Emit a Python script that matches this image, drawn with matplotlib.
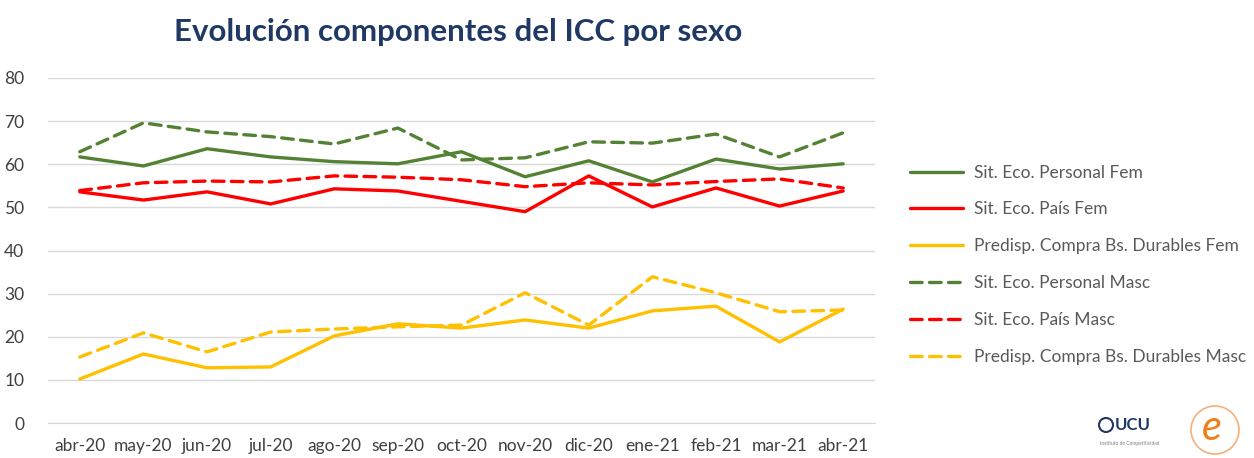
import matplotlib.pyplot as plt
from matplotlib.patches import Circle

plt.rcParams['font.family'] = ['Lato', 'DejaVu Sans']

# data
months = ['abr-20', 'may-20', 'jun-20', 'jul-20', 'ago-20', 'sep-20', 'oct-20',
          'nov-20', 'dic-20', 'ene-21', 'feb-21', 'mar-21', 'abr-21']
personal_fem = [61.7, 59.6, 63.6, 61.7, 60.6, 60.1, 62.9, 57.1, 60.8, 55.9, 61.2, 58.9, 60.1]
pais_fem = [53.6, 51.7, 53.6, 50.8, 54.3, 53.8, 51.4, 49.0, 57.3, 50.1, 54.5, 50.3, 53.8]
durables_fem = [10.2, 16.0, 12.8, 13.0, 20.2, 23.0, 22.0, 23.9, 22.0, 26.0, 27.1, 18.8, 26.4]
personal_masc = [62.9, 69.6, 67.5, 66.4, 64.7, 68.4, 61.0, 61.5, 65.2, 64.9, 67.0, 61.7, 67.3]
pais_masc = [53.9, 55.7, 56.1, 55.9, 57.3, 57.0, 56.4, 54.8, 55.7, 55.2, 56.0, 56.6, 54.5]
durables_masc = [15.3, 20.9, 16.5, 21.1, 21.8, 22.3, 22.7, 30.2, 22.7, 33.9, 30.2, 25.8, 26.2]

labels = ['Sit. Eco. Personal Fem', 'Sit. Eco. País Fem', 'Predisp. Compra Bs. Durables Fem',
          'Sit. Eco. Personal Masc', 'Sit. Eco. País Masc', 'Predisp. Compra Bs. Durables Masc']
series = [personal_fem, pais_fem, durables_fem, personal_masc, pais_masc, durables_masc]
colors = ['#548235', '#FF0000', '#FFC000', '#548235', '#FF0000', '#FFC000']

fig = plt.figure(figsize=(12.54, 4.58), dpi=100)
ax = fig.add_axes([48 / 1254, 1 - 423 / 458, (875 - 48) / 1254, (423 - 78) / 458])

x = range(len(months))
for i, (vals, lab, col) in enumerate(zip(series, labels, colors)):
    if i < 3:
        ax.plot(x, vals, color=col, lw=2.4, label=lab, solid_capstyle='round')
    else:
        ax.plot(x, vals, color=col, lw=2.4, label=lab, dashes=(3.5, 2.2), dash_capstyle='round')

ax.set_ylim(0, 80)
ax.set_yticks(range(0, 81, 10))
ax.set_xlim(-0.5, len(months) - 0.5)
ax.set_xticks(list(x))
ax.set_xticklabels(months)
ax.grid(axis='y', color='#D9D9D9', lw=1)
ax.set_axisbelow(True)
for s in ['top', 'right', 'left']:
    ax.spines[s].set_visible(False)
ax.spines['bottom'].set_color('#D9D9D9')
ax.tick_params(axis='both', length=0, labelsize=12.5, colors='#404040')
ax.tick_params(axis='y', pad=17)
ax.tick_params(axis='x', pad=11)

fig.text(458 / 1254, 1 - 32 / 458, 'Evolución componentes del ICC por sexo', ha='center', va='center',
         fontsize=22.5, fontweight='bold', color='#1F3864')

leg = fig.legend(loc='upper left', bbox_to_anchor=(894 / 1254, 1 - 149 / 458), frameon=False,
                 fontsize=12.5, handlelength=3.1, labelspacing=1.2, handletextpad=0.58)
for t in leg.get_texts():
    t.set_color('#595959')

# logos (approximation), circles placed in inches
fig.patches.append(Circle((11.06, 0.33), 0.07, transform=fig.dpi_scale_trans,
                          fill=False, ec='#1F3864', lw=1.5))
fig.text(1133 / 1254, 1 - 425 / 458, 'UCU', ha='center', va='center', fontsize=12,
         fontweight='bold', color='#1F3864')
fig.text(1130 / 1254, 1 - 443 / 458, 'Instituto de Competitividad', ha='center', va='center',
         fontsize=3.5, color='#7F7F7F')
fig.patches.append(Circle((12.15, 0.28), 0.24, transform=fig.dpi_scale_trans,
                          fill=False, ec='#F5B07A', lw=1.2))
fig.text(1212 / 1254, 1 - 428 / 458, 'e', ha='center', va='center', fontsize=30,
         fontstyle='italic', color='#F07F1A')

fig.savefig('out.png', dpi=100)
